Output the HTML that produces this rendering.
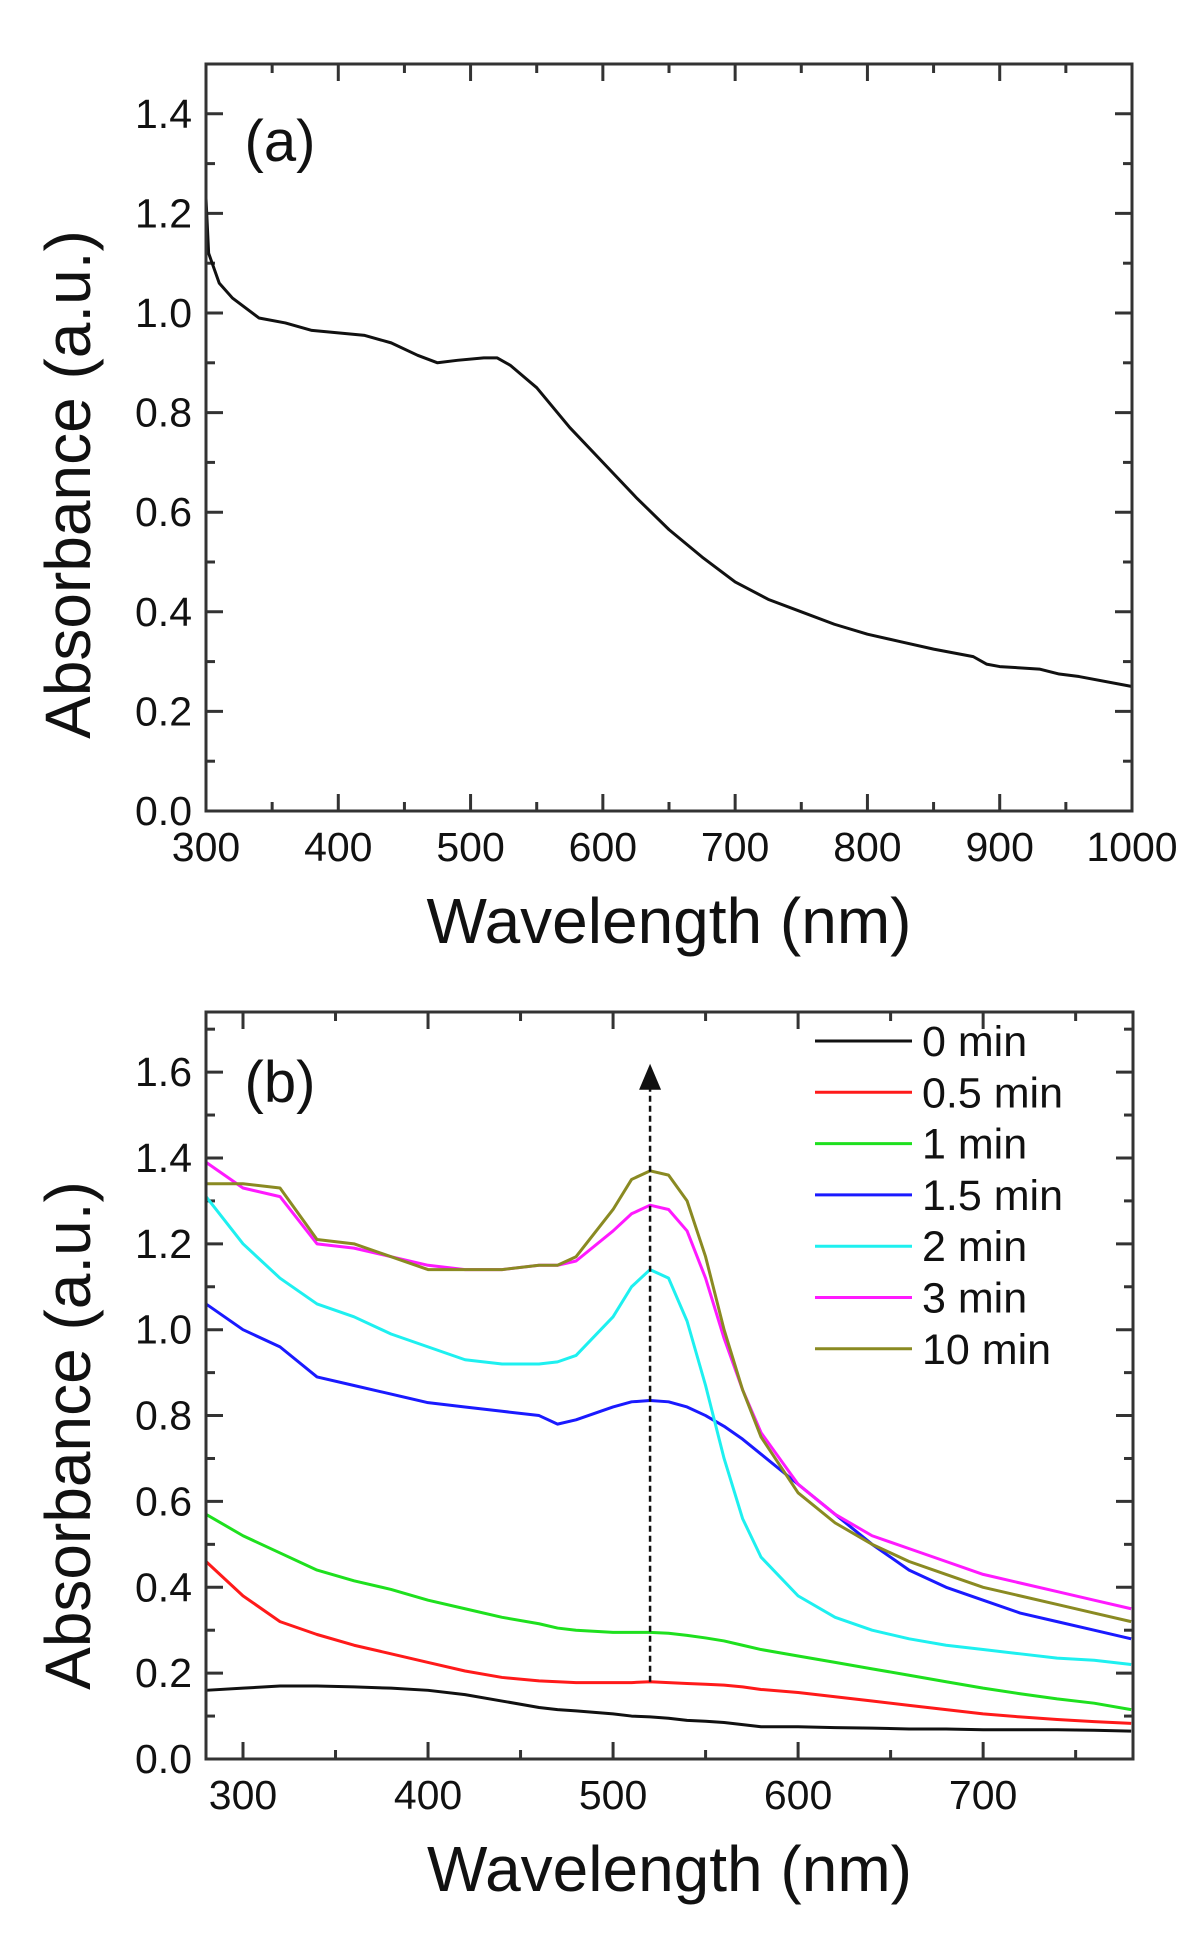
<!DOCTYPE html>
<html><head><meta charset="utf-8"><style>
html,body{margin:0;padding:0;background:#fff}
svg{display:block}
text{font-family:"Liberation Sans",sans-serif;fill:#111}
</style></head><body>
<svg id="chart" width="1200" height="1943" viewBox="0 0 1200 1943" xmlns="http://www.w3.org/2000/svg"></svg>
<script>
// Panel (a) data
const aWavelengths=[300,302,310,320,340,360,380,400,420,440,460,475,490,510,520,530,550,575,600,625,650,675,700,725,750,775,800,825,850,870,880,890,900,930,945,960,1000];
const aAbsorbance=[1.23,1.12,1.06,1.03,0.99,0.98,0.965,0.96,0.955,0.94,0.915,0.90,0.905,0.91,0.91,0.895,0.85,0.77,0.70,0.63,0.565,0.51,0.46,0.425,0.40,0.375,0.355,0.34,0.325,0.315,0.31,0.295,0.29,0.285,0.275,0.27,0.25];
const aXTicks=[300,400,500,600,700,800,900,1000];
const aYTicks=[0.0,0.2,0.4,0.6,0.8,1.0,1.2,1.4];
// Panel (b) data
const bWavelengths=[280,300,320,340,360,380,400,420,440,460,470,480,500,510,520,530,540,550,560,570,580,600,620,640,660,680,700,720,740,760,780];
const bSeriesNames=["0 min","0.5 min","1 min","1.5 min","2 min","3 min","10 min"];
const b0=[.16,.165,.17,.17,.168,.165,.16,.15,.135,.12,.115,.112,.105,.10,.098,.095,.09,.088,.085,.08,.075,.075,.073,.072,.07,.07,.068,.068,.068,.067,.065];
const b05=[.46,.38,.32,.29,.265,.245,.225,.205,.19,.182,.18,.178,.178,.178,.18,.178,.176,.174,.172,.168,.162,.155,.145,.135,.125,.115,.105,.098,.092,.087,.083];
const b1=[.57,.52,.48,.44,.415,.395,.37,.35,.33,.315,.305,.30,.295,.295,.295,.293,.288,.282,.275,.265,.255,.24,.225,.21,.195,.18,.165,.152,.14,.13,.115];
const b15=[1.06,1.0,.96,.89,.87,.85,.83,.82,.81,.80,.78,.79,.82,.832,.835,.832,.82,.80,.775,.745,.71,.64,.57,.5,.44,.4,.37,.34,.32,.3,.28];
const b2=[1.31,1.2,1.12,1.06,1.03,.99,.96,.93,.92,.92,.925,.94,1.03,1.1,1.14,1.12,1.02,.87,.7,.56,.47,.38,.33,.3,.28,.265,.255,.245,.235,.23,.22];
const b3=[1.39,1.33,1.31,1.2,1.19,1.17,1.15,1.14,1.14,1.15,1.15,1.16,1.23,1.27,1.29,1.28,1.23,1.12,.98,.86,.76,.64,.57,.52,.49,.46,.43,.41,.39,.37,.35];
const b10=[1.34,1.34,1.33,1.21,1.2,1.17,1.14,1.14,1.14,1.15,1.15,1.17,1.28,1.35,1.37,1.36,1.3,1.17,1.0,.86,.75,.62,.55,.5,.46,.43,.40,.38,.36,.34,.32];
const bXTicks=[300,400,500,600,700];
const bYTicks=[0.0,0.2,0.4,0.6,0.8,1.0,1.2,1.4,1.6];
const arrowX=[520];
const arrowY=[0.18,1.61];

const NS="http://www.w3.org/2000/svg";
const svg=document.getElementById('chart');
function el(tag,attrs,parent){const e=document.createElementNS(NS,tag);for(const k in attrs)e.setAttribute(k,attrs[k]);(parent||svg).appendChild(e);return e;}

function panel(cfg){
  const g=el('g',{});
  
  
  const sx=v=>cfg.L+(v-cfg.x0)/(cfg.x1-cfg.x0)*(cfg.R-cfg.L);
  const sy=v=>cfg.B-(v-cfg.y0)/(cfg.y1-cfg.y0)*(cfg.B-cfg.T);
  const tg=el('g',{stroke:'#333','stroke-width':3},g);
  cfg.xTicks.forEach(t=>{const x=sx(t);
    el('line',{x1:x,y1:cfg.B,x2:x,y2:cfg.B-17},tg);el('line',{x1:x,y1:cfg.T,x2:x,y2:cfg.T+17},tg);
    const m=sx(t+cfg.xMinor);if(t+cfg.xMinor<cfg.x1){el('line',{x1:m,y1:cfg.B,x2:m,y2:cfg.B-9},tg);el('line',{x1:m,y1:cfg.T,x2:m,y2:cfg.T+9},tg);}
    const lab=el('text',{x:x,y:cfg.B+50,'font-size':41,'text-anchor':'middle'},g);lab.textContent=t;
    
  });
  cfg.yTicks.forEach(t=>{const y=sy(t);
    el('line',{x1:cfg.L,y1:y,x2:cfg.L+17,y2:y},tg);el('line',{x1:cfg.R,y1:y,x2:cfg.R-17,y2:y},tg);
    const m=sy(t+0.1);if(t+0.1<cfg.y1){el('line',{x1:cfg.L,y1:m,x2:cfg.L+9,y2:m},tg);el('line',{x1:cfg.R,y1:m,x2:cfg.R-9,y2:m},tg);}
    const lab=el('text',{x:cfg.L-14,y:y+14,'font-size':41,'text-anchor':'end'},g);lab.textContent=t.toFixed(1);
    
  });
  cfg.series.forEach(s=>{
    const p=el('polyline',{points:cfg.xs.map((x,i)=>sx(x)+','+sy(s.v[i])).join(' '),fill:'none',stroke:s.c,'stroke-width':3,'stroke-linejoin':'round'},g);
    
    
  });
  const fr=el('rect',{x:cfg.L,y:cfg.T,width:cfg.R-cfg.L,height:cfg.B-cfg.T,fill:'none',stroke:'#333','stroke-width':3},g);
  
  const xt=el('text',{x:(cfg.L+cfg.R)/2,y:cfg.B+132,'font-size':64,'text-anchor':'middle'},g);xt.textContent='Wavelength (nm)';
  
  const cy=(cfg.T+cfg.B)/2+cfg.yTitleShift;
  const yt=el('text',{x:0,y:0,'font-size':64,'text-anchor':'middle',transform:`translate(90,${cy}) rotate(-90)`},g);yt.textContent='Absorbance (a.u.)';
  
  const pl=el('text',{x:280,y:cfg.labelY,'font-size':58,'text-anchor':'middle'},g);pl.textContent=cfg.label;
  
  return {sx,sy,g};
}

panel({name:'panel-a',L:206,R:1132,T:64,B:811,x0:300,x1:1000,y0:0,y1:1.5,xTicks:aXTicks,yTicks:aYTicks,xMinor:50,xs:aWavelengths,
  series:[{n:'spectrum',v:aAbsorbance,c:'#111'}],label:'(a)',labelY:161,yTitleShift:47});

const colors=['#111','#ff1a1a','#1ee01e','#1a1aff','#1ef0f0','#ff1aff','#8a8a22'];
const bData=[b0,b05,b1,b15,b2,b3,b10];
const pb=panel({name:'panel-b',L:206,R:1133,T:1012,B:1759,x0:280,x1:781,y0:0,y1:1.74,xTicks:bXTicks,yTicks:bYTicks,xMinor:50,xs:bWavelengths,
  series:bData.map((v,i)=>({n:bSeriesNames[i],v:v,c:colors[i]})),label:'(b)',labelY:1102,yTitleShift:50});

const ax=pb.sx(arrowX[0]);
const ar=el('line',{x1:ax,y1:pb.sy(arrowY[0]),x2:ax,y2:pb.sy(arrowY[1])+18,stroke:'#111','stroke-width':2.5,'stroke-dasharray':'6,4'});

const ah=el('polygon',{points:`${ax-11},${pb.sy(arrowY[1])+22} ${ax+11},${pb.sy(arrowY[1])+22} ${ax},${pb.sy(arrowY[1])-4}`,fill:'#111'});


const lg=el('g',{});

bSeriesNames.forEach((n,i)=>{
  const y=1041+i*51.3;
  const e=el('g',{},lg);
  
  el('line',{x1:815,y1:y,x2:912,y2:y,stroke:colors[i],'stroke-width':3},e);
  const t=el('text',{x:922,y:y+15,'font-size':43},e);t.textContent=n;
});
</script>
</body></html>
